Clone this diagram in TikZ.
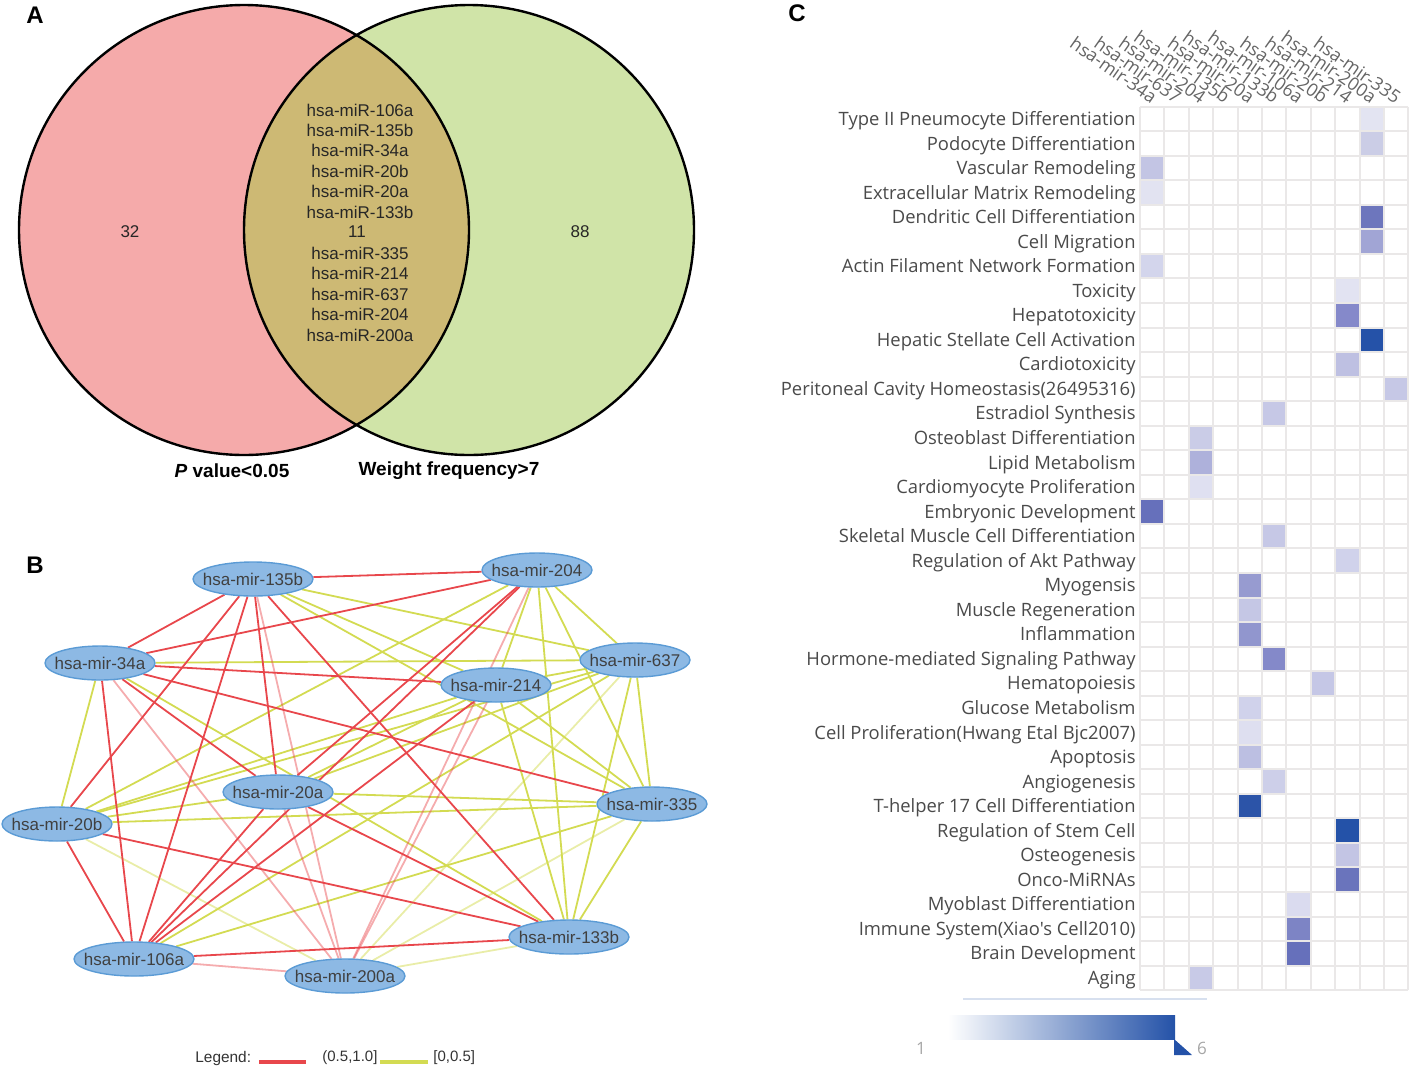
\documentclass[tikz,border=0pt]{standalone}
\usepackage{fontspec}
\setmainfont{Liberation Sans}
\newfontfamily\hmfont{Open Sans}
\usetikzlibrary{shapes.geometric,backgrounds}

\definecolor{vennred}{HTML}{F5AAAA}
\definecolor{venngreen}{HTML}{D0E4A8}
\definecolor{vennmix}{HTML}{CDB974}
\definecolor{nodefill}{HTML}{8DB9E4}
\definecolor{nodeline}{HTML}{5B9BD5}
\definecolor{edgered}{HTML}{E8474C}
\definecolor{edgeyel}{HTML}{D3DB52}
\definecolor{gridgray}{HTML}{EAE8E8}
\definecolor{hmblue}{HTML}{2452A8}
\definecolor{hmmid}{HTML}{7A80C2}
\definecolor{labelgray}{HTML}{4A4A4A}

\tikzset{
  mir/.style={ellipse, draw=nodeline, fill=nodefill, line width=0.7pt,
    minimum width=55pt, minimum height=17pt, inner sep=0pt,
    font=\fontsize{8.5}{10}\selectfont, text=black!75},
  mirlong/.style={mir, minimum width=60pt},
  redge/.style={draw=edgered, line width=0.9pt},
  lredge/.style={redge, draw opacity=0.45},
  yedge/.style={draw=edgeyel, line width=0.9pt},
  lyedge/.style={yedge, draw opacity=0.5},
  panel/.style={font=\fontsize{12}{14}\selectfont\bfseries},
  venntext/.style={font=\fontsize{8.5}{10}\selectfont, text=black!85},
  rowlabel/.style={anchor=base east, inner sep=0pt, text=labelgray,
    font=\hmfont\fontsize{9.2}{11}\selectfont},
  collabel/.style={anchor=east, rotate=-35, inner sep=0pt, text=labelgray!85,
    font=\hmfont\fontsize{9}{11}\selectfont},
}
\newcommand{\mirtext}[1]{\makebox[0pt]{#1}}

\begin{document}
\begin{tikzpicture}[x=0.5pt, y=-0.5pt]
  \useasboundingbox (0,0) rectangle (1411,1071);

  % Panel labels
  \node[panel] (labA) at (35,15) {A};
  \node[panel] (labB) at (35,565) {B};
  \node[panel] (labC) at (797,13) {C};

  % Draw the Venn circles
  \fill[vennred] (244,230) circle[radius=225];
  \fill[venngreen] (469,230) circle[radius=225];
  \begin{scope}
    \clip (244,230) circle[radius=225];
    \fill[vennmix] (469,230) circle[radius=225];
  \end{scope}
  \draw[line width=1.2pt] (244,230) circle[radius=225];
  \draw[line width=1.2pt] (469,230) circle[radius=225];

  \node[venntext] (left) at (130,232) {32};
  \node[venntext] (right) at (580,232) {88};
  \node[venntext] (both) at (357,232) {11};
  \foreach \m/\k in {106a/0, 135b/1, 34a/2, 20b/3, 20a/4, 133b/5,
                     335/7, 214/8, 637/9, 204/10, 200a/11}
    \node[venntext] (v\m) at (360,{110+20.45*\k}) {hsa-miR-\m};

  \node[font=\fontsize{9.5}{11}\selectfont\bfseries] (pval) at (232,471) {\textit{P} value<0.05};
  \node[font=\fontsize{9.5}{11}\selectfont\bfseries] (wfreq) at (449,471) {Weight frequency>7};

  % Draw the network
  \node[mirlong] (n135b) at (253,579) {\mirtext{hsa-mir-135b}};
  \node[mir] (n204) at (537,570) {\mirtext{hsa-mir-204}};
  \node[mir] (n34a) at (100,663) {\mirtext{hsa-mir-34a}};
  \node[mir] (n637) at (635,660) {\mirtext{hsa-mir-637}};
  \node[mir] (n214) at (496,685) {\mirtext{hsa-mir-214}};
  \node[mir] (n20a) at (278,792) {\mirtext{hsa-mir-20a}};
  \node[mir] (n335) at (652,804) {\mirtext{hsa-mir-335}};
  \node[mir] (n20b) at (57,824) {\mirtext{hsa-mir-20b}};
  \node[mirlong] (n133b) at (569,937) {\mirtext{hsa-mir-133b}};
  \node[mirlong] (n106a) at (134,959) {\mirtext{hsa-mir-106a}};
  \node[mirlong] (n200a) at (345,976) {\mirtext{hsa-mir-200a}};

  \begin{pgfonlayer}{background}
    \foreach \a/\b in {n135b/n637, n135b/n214, n135b/n335, n34a/n637, n34a/n133b,
        n34a/n20b, n204/n214, n204/n133b, n204/n335, n204/n637, n204/n20b,
        n637/n214, n637/n335, n637/n133b, n637/n20a, n637/n20b, n637/n106a,
        n214/n335, n214/n133b, n214/n20b, n214/n20a, n20a/n335, n20a/n20b,
        n20b/n335, n335/n133b, n335/n106a}
      \draw[yedge] (\a) -- (\b);
    \foreach \a/\b in {n637/n200a, n20b/n200a, n335/n200a, n133b/n200a}
      \draw[lyedge] (\a) -- (\b);
    \foreach \a/\b in {n135b/n200a, n34a/n200a, n204/n200a, n214/n200a,
        n20a/n200a, n106a/n200a}
      \draw[lredge] (\a) -- (\b);
    \foreach \a/\b in {n135b/n204, n135b/n34a, n135b/n20b, n135b/n106a,
        n135b/n20a, n135b/n133b, n34a/n204, n34a/n214, n34a/n335, n34a/n20a,
        n34a/n106a, n204/n20a, n204/n106a, n214/n106a, n20a/n106a,
        n20a/n133b, n20b/n106a, n20b/n133b, n133b/n106a}
      \draw[redge] (\a) -- (\b);
  \end{pgfonlayer}

  % Legend
  \node[anchor=west, inner sep=0pt, font=\fontsize{7.7}{9}\selectfont, text=black!80] (legend) at (195,1058) {Legend:};
  \draw[edgered, line width=2.4pt] (259,1062) -- (306,1062);
  \node[anchor=west, inner sep=0pt, font=\fontsize{7.5}{9}\selectfont, text=black!80] (lhigh) at (322,1058) {(0.5,1.0]};
  \draw[edgeyel, line width=2.4pt] (380,1062) -- (428,1062);
  \node[anchor=west, inner sep=0pt, font=\fontsize{7.5}{9}\selectfont, text=black!80] (llow) at (433,1058) {[0,0.5]};

  % Draw the heatmap cells
  \foreach \r/\c/\hex in {0/9/E3E4F2, 1/9/CBCDE6, 2/0/C3C5E4, 3/0/E2E3F1,
      4/9/6D76BD, 5/9/A1A5D5, 6/0/D3D5EC, 7/8/E2E3F2, 8/8/8589CA,
      9/9/2552A8, 10/8/BEC0E2, 11/10/C6C8E6, 12/5/C6C8E6, 13/2/CACCE7,
      14/2/AEB1DB, 15/2/DFE0F1, 16/0/6670BB, 17/5/C6C8E6, 18/8/D0D2EB,
      19/4/979BD0, 20/4/C5C7E5, 21/4/9196CE, 22/5/8489C9, 23/7/C5C7E6,
      24/4/D0D2EB, 25/4/DEDFF0, 26/4/BCBFE2, 27/5/CDCFE9, 28/4/2C54A8,
      29/8/2452A8, 30/8/C3C5E4, 31/8/6A74BC, 32/6/DADBEF, 33/6/7D84C5,
      34/6/6670BB, 35/2/C8CAE7}
  {
    \definecolor{cellc}{HTML}{\hex}
    \fill[cellc] ({1140+24.4*\c},{106.7+24.54*\r}) rectangle ++(24.4,24.54);
  }

  % Grid
  \foreach \c in {0,...,11}
    \draw[gridgray, line width=1pt] ({1140+24.4*\c},106.7) -- ++(0,883.4);
  \foreach \r in {0,...,36}
    \draw[gridgray, line width=1pt] (1140,{106.7+24.54*\r}) -- ++(268.4,0);

  % Row and column labels
  \foreach \lab [count=\i from 0] in {Type II Pneumocyte Differentiation,
      Podocyte Differentiation, Vascular Remodeling,
      Extracellular Matrix Remodeling, Dendritic Cell Differentiation,
      Cell Migration, Actin Filament Network Formation, Toxicity,
      Hepatotoxicity, Hepatic Stellate Cell Activation, Cardiotoxicity,
      Peritoneal Cavity Homeostasis(26495316), Estradiol Synthesis,
      Osteoblast Differentiation, Lipid Metabolism,
      Cardiomyocyte Proliferation, Embryonic Development,
      Skeletal Muscle Cell Differentiation, Regulation of Akt Pathway,
      Myogensis, Muscle Regeneration, Inflammation,
      Hormone-mediated Signaling Pathway, Hematopoiesis, Glucose Metabolism,
      Cell Proliferation(Hwang Etal Bjc2007), Apoptosis, Angiogenesis,
      T-helper 17 Cell Differentiation, Regulation of Stem Cell,
      Osteogenesis, Onco-MiRNAs, Myoblast Differentiation,
      Immune System(Xiao's Cell2010), Brain Development, Aging}
    \node[rowlabel] (row\i) at (1136,{125.5+24.54*\i}) {\lab};

  \foreach \lab [count=\c from 0] in {hsa-mir-34a, hsa-mir-637, hsa-mir-204,
      hsa-mir-135b, hsa-mir-20a, hsa-mir-133b, hsa-mir-106a, hsa-mir-20b,
      hsa-mir-214, hsa-mir-200a, hsa-mir-335}
    \node[collabel] (col\c) at ({1140+24.4*(\c+0.5)+3},99) {\lab};

  % Colour bar
  \draw[hmblue!18, line width=0.7pt] (963,999) -- (1207,999);
  \shade[left color=white, middle color=hmmid, right color=hmblue] (948,1015) rectangle (1175,1039);
  \fill[hmblue] (1174,1039) -- (1192,1055) -- (1174,1055) -- cycle;
  \node[text=black!35, font=\hmfont\fontsize{8.5}{10}\selectfont] (cbmin) at (921,1048) {1};
  \node[text=black!35, font=\hmfont\fontsize{8.5}{10}\selectfont] (cbmax) at (1202,1048) {6};
\end{tikzpicture}
\end{document}
